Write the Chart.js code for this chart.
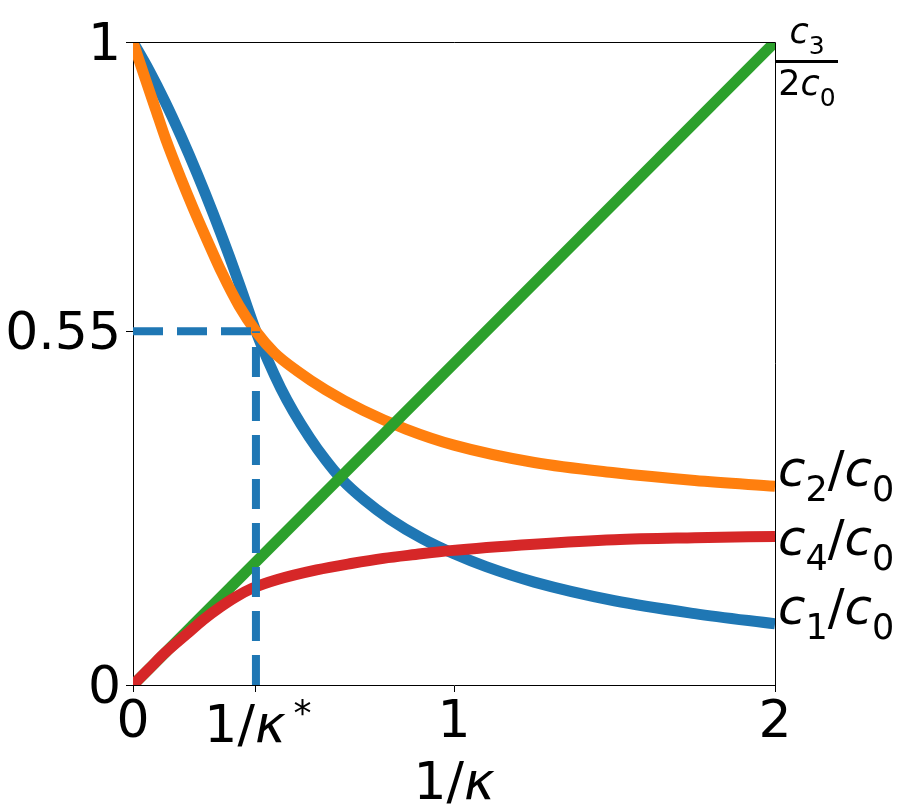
<!DOCTYPE html>
<html>
<head>
<meta charset="utf-8">
<script src="https://cdn.jsdelivr.net/npm/chart.js@4.4.1/dist/chart.umd.min.js"></script>
<style>
    body { margin: 0; background: #fff; }
    canvas { display: block; }
</style>
</head>
<body>
<canvas id="chart" width="902" height="811"></canvas>
<script>
// values (x = 1/kappa)
const kStar = 0.383;
const crossY = 0.55;

const c1X = [0, 0.05, 0.1, 0.15, 0.2, 0.25, 0.3, 0.34, 0.383, 0.42, 0.46, 0.5, 0.55, 0.6, 0.65, 0.72, 0.8, 0.9, 1.0, 1.1, 1.25, 1.5, 1.75, 2.0];
const c1Y = [1.0, 0.956, 0.907, 0.853, 0.795, 0.733, 0.667, 0.611, 0.55, 0.505, 0.462, 0.425, 0.385, 0.35, 0.32, 0.288, 0.258, 0.228, 0.204, 0.184, 0.16, 0.131, 0.111, 0.095];

const c2X = [0, 0.034, 0.07, 0.102, 0.15, 0.188, 0.23, 0.278, 0.33, 0.383, 0.44, 0.51, 0.6, 0.717, 0.85, 1.0, 1.25, 1.5, 1.75, 2.0];
const c2Y = [1.0, 0.949, 0.896, 0.849, 0.787, 0.741, 0.693, 0.640, 0.590, 0.55, 0.517, 0.489, 0.459, 0.427, 0.398, 0.373, 0.346, 0.330, 0.318, 0.309];

const c3X = [0, 2];
const c3Y = [0, 1];

const c4X = [0, 0.05, 0.1, 0.167, 0.22, 0.271, 0.32, 0.37, 0.45, 0.572, 0.68, 0.78, 0.88, 0.988, 1.25, 1.5, 1.75, 2.0];
const c4Y = [0, 0.025, 0.05, 0.079, 0.102, 0.121, 0.137, 0.150, 0.164, 0.179, 0.189, 0.197, 0.203, 0.209, 0.219, 0.226, 0.229, 0.231];

const xTickValues = [0, kStar, 1, 2];
const xTickLabels = ['0', '', '1', '2'];
const yTickValues = [0, crossY, 1];
const yTickLabels = ['0', '0.55', '1'];

// where the right-hand labels sit (data y of the text baseline)
const labelYs = { c2: 0.309, c4: 0.202, c1: 0.095 };

const BLUE = '#1f77b4', ORANGE = '#ff7f0e', GREEN = '#2ca02c', RED = '#d62728';
const FONT = 'DejaVu Sans';

function pts(xs, ys) {
    return xs.map((x, i) => ({ x: x, y: ys[i] }));
}

// tiny mathtext-ish writer: runs of [text, kind, gapBefore]
function runFont(kind, size) {
    if (kind === 'i') return `oblique ${size}px "${FONT}"`;
    if (kind === 'sub' || kind === 'sup') return `${Math.round(size * 0.7)}px "${FONT}"`;
    return `${size}px "${FONT}"`;
}
function mathWidth(ctx, runs, size) {
    let w = 0;
    runs.forEach(r => { ctx.font = runFont(r[1], size); w += ctx.measureText(r[0]).width + (r[2] || 0); });
    return w;
}
function drawMath(ctx, runs, x, y, size, align) {
    const w = mathWidth(ctx, runs, size);
    let cx = align === 'center' ? x - w / 2 : x;
    ctx.textAlign = 'left';
    ctx.textBaseline = 'alphabetic';
    runs.forEach(r => {
        ctx.font = runFont(r[1], size);
        cx += r[2] || 0;
        let dy = 0;
        if (r[1] === 'sub') dy = size * 0.3;
        if (r[1] === 'sup') dy = -size * 0.33;
        ctx.fillText(r[0], cx, y + dy);
        cx += ctx.measureText(r[0]).width;
    });
    return w;
}

const labelsPlugin = {
    id: 'labels',
    afterDraw(chart) {
        const ctx = chart.ctx;
        const a = chart.chartArea;
        const xs = chart.scales.x, ys = chart.scales.y;
        ctx.save();
        // frame on top and right
        ctx.strokeStyle = '#000';
        ctx.lineWidth = 1;
        ctx.beginPath();
        ctx.moveTo(a.left, a.top + 0.5);
        ctx.lineTo(a.right + 0.5, a.top + 0.5);
        ctx.lineTo(a.right + 0.5, a.bottom);
        ctx.stroke();

        ctx.fillStyle = '#000';
        // 1/kappa* tick label
        drawMath(ctx, [['1', 'n'], ['/', 'n'], ['κ', 'i'], ['*', 'sup', 8]], xs.getPixelForValue(kStar) + 2, a.bottom + 57, 52, 'center');
        // axis title
        drawMath(ctx, [['1', 'n'], ['/', 'n'], ['κ', 'i']], xs.getPixelForValue(1), a.bottom + 114, 52, 'center');

        // series labels on the right
        const lx = a.right + 3;
        drawMath(ctx, [['c', 'i'], ['2', 'sub'], ['/', 'n'], ['c', 'i'], ['0', 'sub']], lx, ys.getPixelForValue(labelYs.c2), 50, 'left');
        drawMath(ctx, [['c', 'i'], ['4', 'sub'], ['/', 'n'], ['c', 'i'], ['0', 'sub']], lx, ys.getPixelForValue(labelYs.c4), 50, 'left');
        drawMath(ctx, [['c', 'i'], ['1', 'sub'], ['/', 'n'], ['c', 'i'], ['0', 'sub']], lx, ys.getPixelForValue(labelYs.c1), 50, 'left');

        // c3 / 2c0 fraction next to the top of the green line
        const top = ys.getPixelForValue(1);
        const fx = a.right + 32;
        drawMath(ctx, [['c', 'i'], ['3', 'sub']], fx, top + 1, 35, 'center');
        ctx.fillRect(a.right + 1, top + 18, 62, 3);
        drawMath(ctx, [['2', 'n'], ['c', 'i'], ['0', 'sub']], fx, top + 53, 35, 'center');
        ctx.restore();
    }
};

const lineOpts = { pointRadius: 0, borderWidth: 11, fill: false, clip: 0, cubicInterpolationMode: 'monotone' };
const dashOpts = { pointRadius: 0, borderWidth: 8, fill: false, clip: 0, borderDash: [30, 14], borderCapStyle: 'butt' };

new Chart(document.getElementById('chart'), {
    type: 'line',
    data: {
        datasets: [
            Object.assign({ data: pts([0, kStar], [crossY, crossY]), borderColor: BLUE, order: 1 }, dashOpts),
            Object.assign({ data: pts([kStar, kStar], [0, crossY]), borderColor: BLUE, order: 1 }, dashOpts),
            Object.assign({ label: 'c4/c0', data: pts(c4X, c4Y), borderColor: RED, order: 2 }, lineOpts),
            Object.assign({ label: 'c3/2c0', data: pts(c3X, c3Y), borderColor: GREEN, order: 3 }, lineOpts),
            Object.assign({ label: 'c2/c0', data: pts(c2X, c2Y), borderColor: ORANGE, order: 4 }, lineOpts),
            Object.assign({ label: 'c1/c0', data: pts(c1X, c1Y), borderColor: BLUE, order: 5 }, lineOpts)
        ]
    },
    options: {
        responsive: false,
        animation: false,
        devicePixelRatio: 1,
        layout: { padding: { top: 42, right: 127, left: 0, bottom: 0 } },
        plugins: { legend: { display: false }, tooltip: { enabled: false } },
        scales: {
            x: {
                type: 'linear', min: 0, max: 2,
                afterBuildTicks: s => { s.ticks = xTickValues.map(v => ({ value: v })); },
                afterFit: s => { s.height = 126; },
                grid: { drawOnChartArea: false, drawTicks: true, tickLength: 7, tickColor: '#000', tickWidth: 1 },
                border: { display: true, color: '#000', width: 1 },
                ticks: {
                    color: '#000', padding: 0, maxRotation: 0, autoSkip: false,
                    font: { family: FONT, size: 52 },
                    callback: (v, i) => xTickLabels[i]
                }
            },
            y: {
                type: 'linear', min: 0, max: 1,
                afterBuildTicks: s => { s.ticks = yTickValues.map(v => ({ value: v })); },
                afterFit: s => { s.width = 133; },
                grid: { drawOnChartArea: false, drawTicks: true, tickLength: 7, tickColor: '#000', tickWidth: 1 },
                border: { display: true, color: '#000', width: 1 },
                ticks: {
                    color: '#000', padding: 5, labelOffset: 4, autoSkip: false,
                    font: { family: FONT, size: 52 },
                    callback: (v, i) => yTickLabels[i]
                }
            }
        }
    },
    plugins: [labelsPlugin]
});
</script>
</body>
</html>
